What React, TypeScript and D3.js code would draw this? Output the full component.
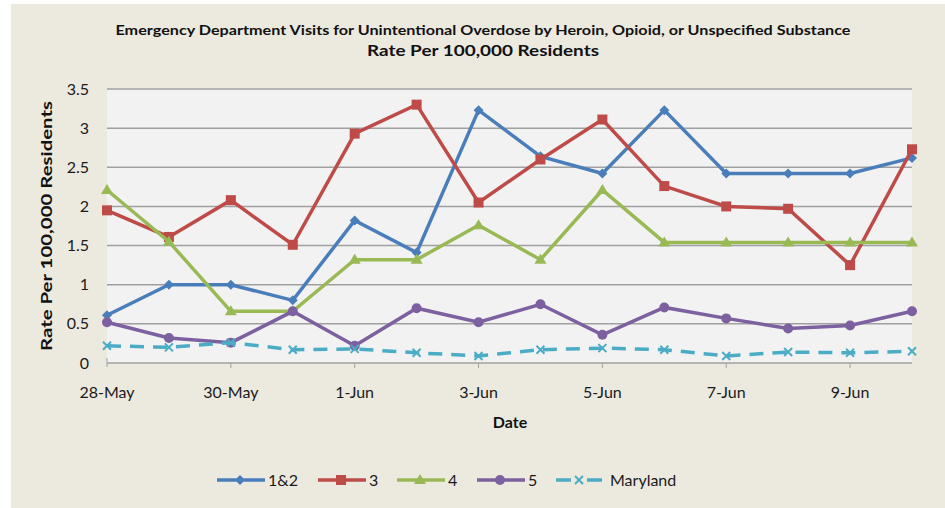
import React, { useEffect, useRef } from 'react';
import * as d3 from 'd3';

const dates = ['28-May', '29-May', '30-May', '31-May', '1-Jun', '2-Jun', '3-Jun', '4-Jun', '5-Jun', '6-Jun', '7-Jun', '8-Jun', '9-Jun', '10-Jun'];
const region12 = [0.61, 1.0, 1.0, 0.8, 1.82, 1.41, 3.23, 2.64, 2.42, 3.23, 2.42, 2.42, 2.42, 2.62];
const region3 = [1.95, 1.61, 2.08, 1.51, 2.93, 3.3, 2.05, 2.6, 3.11, 2.26, 2.0, 1.97, 1.25, 2.73];
const region4 = [2.21, 1.55, 0.66, 0.66, 1.32, 1.32, 1.76, 1.32, 2.21, 1.54, 1.54, 1.54, 1.54, 1.54];
const region5 = [0.52, 0.32, 0.26, 0.66, 0.22, 0.7, 0.52, 0.75, 0.36, 0.71, 0.57, 0.44, 0.48, 0.66];
const maryland = [0.22, 0.2, 0.26, 0.17, 0.18, 0.13, 0.09, 0.17, 0.19, 0.17, 0.09, 0.14, 0.13, 0.15];
const yTicks = [0, 0.5, 1, 1.5, 2, 2.5, 3, 3.5];

const series = [
  { name: '1&2', values: region12, color: '#4A7EBB', marker: 'diamond', dash: '' },
  { name: '3', values: region3, color: '#BE4B48', marker: 'square', dash: '' },
  { name: '4', values: region4, color: '#98B954', marker: 'triangle', dash: '' },
  { name: '5', values: region5, color: '#7D60A0', marker: 'circle', dash: '' },
  { name: 'Maryland', values: maryland, color: '#4BACC6', marker: 'x', dash: '14,9' },
];

const FONT = 'Lato, "Open Sans", sans-serif';

const App: React.FC = () => {
  const svgRef = useRef<SVGSVGElement>(null);

  useEffect(() => {
    if (!svgRef.current) return;
    const svg = d3.select(svgRef.current);
    svg.selectAll('*').remove();

    const left = 107, right = 912, top = 89, bottom = 363;

    // background
    svg.append('rect').attr('x', 11).attr('y', 4).attr('width', 934).attr('height', 504).attr('fill', '#ECE9DF');

    const x = d3.scalePoint<string>().domain(dates).range([left, right]);
    const y = d3.scaleLinear().domain([0, 3.5]).range([bottom, top]);

    svg.append('rect')
      .attr('x', left).attr('y', top)
      .attr('width', right - left).attr('height', bottom - top)
      .attr('fill', '#F2F2F2');

    // grid lines
    svg.selectAll('.grid')
      .data(yTicks.filter(d => d > 0))
      .enter().append('line')
      .attr('x1', left).attr('x2', right)
      .attr('y1', d => y(d)).attr('y2', d => y(d))
      .attr('stroke', '#A0A0A0')
      .attr('stroke-width', 1.5);

    // x axis
    svg.append('line')
      .attr('x1', left).attr('x2', right)
      .attr('y1', bottom).attr('y2', bottom)
      .attr('stroke', '#A0A0A0').attr('stroke-width', 1.5);
    svg.append('line')
      .attr('x1', left).attr('x2', left)
      .attr('y1', bottom - 5).attr('y2', bottom + 4)
      .attr('stroke', '#A0A0A0');

    const labelled = dates.filter((_, i) => i % 2 === 0);
    svg.selectAll('.xtick')
      .data(labelled.slice(1))
      .enter().append('line')
      .attr('x1', d => x(d)!).attr('x2', d => x(d)!)
      .attr('y1', bottom).attr('y2', bottom + 5)
      .attr('stroke', '#A0A0A0');

    svg.selectAll('.xlabel')
      .data(labelled)
      .enter().append('text')
      .attr('x', d => x(d)!)
      .attr('y', 398)
      .attr('text-anchor', 'middle')
      .attr('font-family', FONT)
      .attr('font-size', 16)
      .attr('fill', '#1a1a1a')
      .text(d => d);

    svg.selectAll('.ylabel')
      .data(yTicks)
      .enter().append('text')
      .attr('x', 89)
      .attr('y', d => y(d))
      .attr('dy', '0.35em')
      .attr('text-anchor', 'end')
      .attr('font-family', FONT)
      .attr('font-size', 16)
      .attr('fill', '#1a1a1a')
      .text(d => String(d));

    // titles
    svg.append('text')
      .attr('x', 483).attr('y', 35)
      .attr('text-anchor', 'middle')
      .attr('font-family', FONT)
      .attr('font-weight', 'bold')
      .attr('font-size', 12.5)
      .attr('textLength', 735)
      .attr('lengthAdjust', 'spacingAndGlyphs')
      .attr('fill', '#111')
      .text('Emergency Department Visits for Unintentional Overdose by Heroin, Opioid, or Unspecified Substance');
    svg.append('text')
      .attr('x', 483).attr('y', 56)
      .attr('text-anchor', 'middle')
      .attr('font-family', FONT)
      .attr('font-weight', 'bold')
      .attr('font-size', 15)
      .attr('textLength', 232)
      .attr('lengthAdjust', 'spacingAndGlyphs')
      .attr('fill', '#111')
      .text('Rate Per 100,000 Residents');

    svg.append('text')
      .attr('transform', `translate(52,${(top + bottom) / 2}) rotate(-90)`)
      .attr('text-anchor', 'middle')
      .attr('font-family', FONT)
      .attr('font-weight', 'bold')
      .attr('font-size', 15)
      .attr('textLength', 250)
      .attr('lengthAdjust', 'spacingAndGlyphs')
      .attr('fill', '#111')
      .text('Rate Per 100,000 Residents');

    svg.append('text')
      .attr('x', 510).attr('y', 428)
      .attr('text-anchor', 'middle')
      .attr('font-family', FONT)
      .attr('font-weight', 'bold')
      .attr('font-size', 16)
      .attr('fill', '#111')
      .text('Date');

    const drawMarker = (g: d3.Selection<SVGGElement, unknown, null, undefined>, kind: string, cx: number, cy: number, color: string) => {
      if (kind === 'diamond') {
        g.append('path').attr('d', `M${cx},${cy - 5}L${cx + 5},${cy}L${cx},${cy + 5}L${cx - 5},${cy}Z`).attr('fill', color);
      } else if (kind === 'square') {
        g.append('rect').attr('x', cx - 5).attr('y', cy - 5).attr('width', 10).attr('height', 10).attr('fill', color);
      } else if (kind === 'triangle') {
        g.append('path').attr('d', `M${cx},${cy - 6}L${cx + 6},${cy + 4}L${cx - 6},${cy + 4}Z`).attr('fill', color);
      } else if (kind === 'circle') {
        g.append('circle').attr('cx', cx).attr('cy', cy).attr('r', 5).attr('fill', color);
      } else {
        g.append('path').attr('d', `M${cx - 4},${cy - 4}L${cx + 4},${cy + 4}M${cx + 4},${cy - 4}L${cx - 4},${cy + 4}`)
          .attr('stroke', color).attr('stroke-width', 2).attr('fill', 'none');
      }
    };

    const line = d3.line<number>()
      .x((_, i) => x(dates[i])!)
      .y(d => y(d));

    series.forEach(s => {
      const g = svg.append('g');
      g.append('path')
        .datum(s.values)
        .attr('d', line)
        .attr('fill', 'none')
        .attr('stroke', s.color)
        .attr('stroke-width', 3.5)
        .attr('stroke-dasharray', s.dash || null);
      s.values.forEach((v, i) => drawMarker(g, s.marker, x(dates[i])!, y(v), s.color));
    });

    // legend
    const legendX = [217, 318, 397, 477, 556];
    series.forEach((s, i) => {
      const g = svg.append('g');
      const ly = 480;
      if (s.dash) {
        g.append('line').attr('x1', legendX[i]).attr('x2', legendX[i] + 15)
          .attr('y1', ly).attr('y2', ly).attr('stroke', s.color).attr('stroke-width', 3.5);
        g.append('line').attr('x1', legendX[i] + 31).attr('x2', legendX[i] + 46)
          .attr('y1', ly).attr('y2', ly).attr('stroke', s.color).attr('stroke-width', 3.5);
      } else {
        g.append('line')
          .attr('x1', legendX[i]).attr('x2', legendX[i] + 48)
          .attr('y1', ly).attr('y2', ly)
          .attr('stroke', s.color).attr('stroke-width', 3.5);
      }
      drawMarker(g, s.marker, legendX[i] + 23, ly, s.color);
      g.append('text')
        .attr('x', legendX[i] + (s.dash ? 54 : 51)).attr('y', ly)
        .attr('dy', '0.35em')
        .attr('font-family', FONT)
        .attr('font-size', 16)
        .attr('fill', '#1a1a1a')
        .text(s.name);
    });
  }, []);

  return (
    <div>
      <style>{'body{margin:0;}'}</style>
      <svg ref={svgRef} width={945} height={508} style={{ display: 'block', background: '#fff' }} />
    </div>
  );
};

export default App;
